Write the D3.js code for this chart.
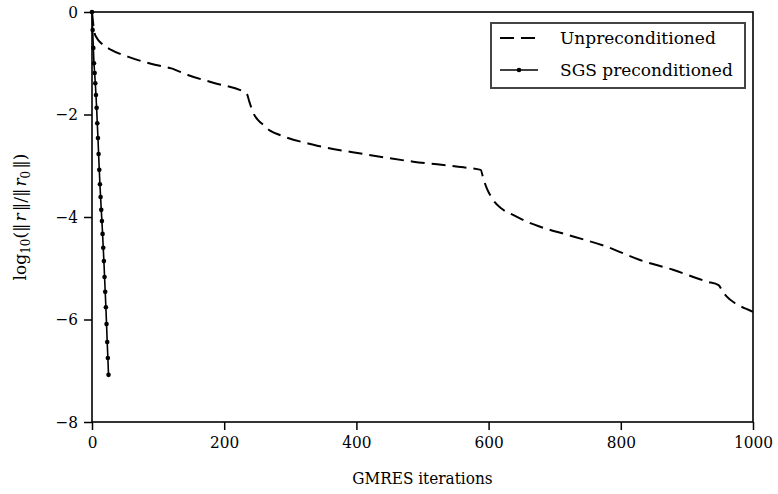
<!DOCTYPE html>
<html>
<head>
<meta charset="utf-8">
<script src="https://cdn.jsdelivr.net/npm/d3@7"></script>
<style>
  html, body { margin: 0; padding: 0; background: #fff; }
  svg text { font-family: "DejaVu Serif", serif; fill: #000; }
  svg text.cond { font-family: "DejaVu Serif Condensed", "DejaVu Serif", serif; font-stretch: condensed; }
</style>
</head>
<body>
<svg id="chart" width="778" height="494"></svg>
<script>
// GMRES relative residual history, log10 scale
const unpreIter = [0, 2, 4, 8, 14, 29, 54, 95, 120, 145, 186, 234, 238, 244, 252, 259, 270, 284, 335, 410, 486, 562, 588, 592, 597, 607, 620, 637, 663, 678, 728, 779, 829, 879, 930, 948, 954, 960, 975, 993, 1000];
const unpreVal  = [0, -0.25, -0.42, -0.52, -0.61, -0.74, -0.87, -1.03, -1.10, -1.23, -1.39, -1.59, -1.75, -1.97, -2.12, -2.20, -2.32, -2.40, -2.59, -2.77, -2.92, -3.03, -3.08, -3.25, -3.43, -3.67, -3.84, -3.96, -4.12, -4.19, -4.38, -4.58, -4.84, -5.03, -5.26, -5.33, -5.45, -5.55, -5.70, -5.81, -5.85];

const sgsIter = d3.range(0, 26);
const sgsVal  = [0, -0.35, -0.70, -1.00, -1.19, -1.39, -1.62, -1.87, -2.17, -2.46, -2.77, -3.08, -3.36, -3.61, -3.86, -4.08, -4.33, -4.60, -4.86, -5.17, -5.46, -5.76, -6.09, -6.44, -6.75, -7.08];

const xTicks = [0, 200, 400, 600, 800, 1000];
const yTicks = [-8, -6, -4, -2, 0];
const seriesNames = ["Unpreconditioned", "SGS preconditioned"];

const W = 778, H = 494;
const margin = { top: 12, right: 25, bottom: 72, left: 92 };
const iw = W - margin.left - margin.right;
const ih = H - margin.top - margin.bottom;

const svg = d3.select("#chart");
const g = svg.append("g").attr("transform", `translate(${margin.left},${margin.top})`);

const x = d3.scaleLinear().domain([0, 1000]).range([0, iw]);
const y = d3.scaleLinear().domain([-8, 0]).range([ih, 0]);
const fmt = d3.format("d");

// axes
const xAxis = g.append("g").attr("transform", `translate(0,${ih})`)
  .call(d3.axisBottom(x).tickValues(xTicks).tickFormat(fmt).tickSize(8).tickPadding(6));
const yAxis = g.append("g")
  .call(d3.axisLeft(y).tickValues(yTicks).tickFormat(fmt).tickSize(8).tickPadding(6));
[xAxis, yAxis].forEach(a => {
  a.select(".domain").remove();
  a.selectAll(".tick line").attr("stroke", "#000").attr("stroke-width", 1.5);
  a.selectAll(".tick text").attr("class", "cond").attr("font-size", 17).attr("font-family", null);
});

// frame
g.append("rect").attr("x", 0).attr("y", 0).attr("width", iw).attr("height", ih)
  .attr("fill", "none").attr("stroke", "#000").attr("stroke-width", 1.6);

// series
const unpre = unpreIter.map((d, i) => [d, unpreVal[i]]);
const sgs = sgsIter.map((d, i) => [d, sgsVal[i]]);
const line = d3.line().x(d => x(d[0])).y(d => y(d[1])).curve(d3.curveMonotoneX);

g.append("clipPath").attr("id", "plotclip")
  .append("rect").attr("width", iw).attr("height", ih);

g.append("path").datum(unpre).attr("d", line)
  .attr("clip-path", "url(#plotclip)")
  .attr("fill", "none").attr("stroke", "#000").attr("stroke-width", 2)
  .attr("stroke-dasharray", "14,7");

g.append("path").datum(sgs).attr("d", d3.line().x(d => x(d[0])).y(d => y(d[1])))
  .attr("fill", "none").attr("stroke", "#000").attr("stroke-width", 1.6);
g.selectAll("circle.sgs").data(sgs).join("circle").attr("class", "sgs")
  .attr("cx", d => x(d[0])).attr("cy", d => y(d[1])).attr("r", 2.3).attr("fill", "#000");

// axis labels
g.append("text").attr("class", "cond").attr("x", iw / 2).attr("y", ih + 62)
  .attr("text-anchor", "middle").attr("font-size", 17).text("GMRES iterations");

const yl = svg.append("text")
  .attr("transform", `translate(26,${margin.top + ih / 2}) rotate(-90)`)
  .attr("text-anchor", "middle").attr("font-size", 17);
yl.append("tspan").text("log");
yl.append("tspan").attr("font-size", 12).attr("dy", 4).text("10");
yl.append("tspan").attr("dy", -4).text("(\u2016");
yl.append("tspan").attr("dx", 2).attr("font-style", "italic").text("r");
yl.append("tspan").attr("dx", 2).text("\u2016/\u2016");
yl.append("tspan").attr("dx", 2).attr("font-style", "italic").text("r");
yl.append("tspan").attr("font-size", 12).attr("dy", 4).text("0");
yl.append("tspan").attr("dx", 2).attr("dy", -4).text("\u2016)");

// legend
const lg = svg.append("g");
lg.append("rect").attr("x", 491).attr("y", 23).attr("width", 254).attr("height", 65)
  .attr("fill", "#fff").attr("stroke", "#444").attr("stroke-width", 2);
const rows = [38, 70];
lg.append("line").attr("x1", 500).attr("x2", 536).attr("y1", rows[0]).attr("y2", rows[0])
  .attr("stroke", "#000").attr("stroke-width", 2).attr("stroke-dasharray", "14,7");
lg.append("line").attr("x1", 500).attr("x2", 538).attr("y1", rows[1]).attr("y2", rows[1])
  .attr("stroke", "#000").attr("stroke-width", 1.6);
lg.append("circle").attr("cx", 519).attr("cy", rows[1]).attr("r", 2.3).attr("fill", "#000");
seriesNames.forEach((n, i) => {
  lg.append("text").attr("x", 560).attr("y", rows[i] + 6).attr("font-size", 17).text(n);
});
</script>
</body>
</html>
